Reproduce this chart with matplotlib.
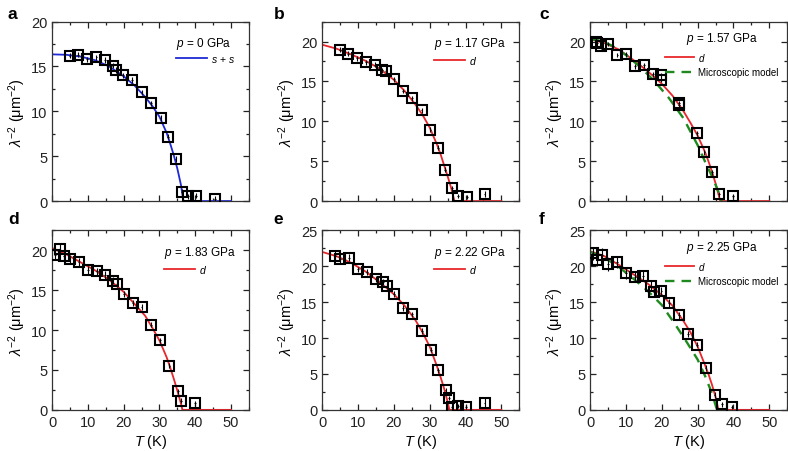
import matplotlib
matplotlib.use('Agg')
import matplotlib.pyplot as plt
from matplotlib.ticker import MultipleLocator

plt.rcParams['font.family'] = ['Liberation Sans', 'DejaVu Sans']
plt.rcParams['mathtext.fontset'] = 'custom'
plt.rcParams['mathtext.rm'] = 'Liberation Sans'
plt.rcParams['mathtext.it'] = 'Liberation Sans:italic'

# measured superfluid density, one set per pressure
T_a = [4.9, 7.3, 9.8, 12.4, 14.7, 16.9, 18.0, 19.8, 22.4, 25.0, 27.7, 30.3, 32.4, 34.5, 36.2, 38.1, 40.3, 45.4]
lam_a = [16.2, 16.3, 15.8, 16.0, 15.7, 15.1, 14.6, 14.0, 13.5, 12.1, 10.9, 9.25, 7.16, 4.7, 1.04, 0.52, 0.6, 0.22]
err_a = [0.3, 0.3, 0.3, 0.3, 0.3, 0.3, 0.3, 0.3, 0.3, 0.3, 0.3, 0.3, 0.3, 0.3, 0.3, 0.3, 0.3, 0.3]

T_b = [4.9, 7.1, 9.6, 12.2, 14.6, 16.7, 17.8, 20.0, 22.6, 25.1, 27.7, 30.2, 32.2, 34.3, 36.2, 37.9, 40.3, 45.3]
lam_b = [19.0, 18.5, 17.9, 17.4, 17.1, 16.4, 16.3, 15.25, 13.8, 12.9, 11.4, 8.95, 6.7, 3.95, 1.6, 0.63, 0.5, 0.92]
err_b = [0.3, 0.3, 0.3, 0.3, 0.3, 0.3, 0.3, 0.3, 0.3, 0.3, 0.3, 0.3, 0.3, 0.3, 0.3, 0.3, 0.3, 0.4]

T_c = [1.5, 2.0, 3.0, 5.0, 7.6, 10.1, 12.6, 15.1, 17.5, 19.9, 19.9, 24.7, 24.7, 29.8, 31.9, 34.1, 35.9, 39.8]
lam_c = [20.0, 19.8, 19.45, 19.7, 18.3, 18.4, 16.9, 17.0, 15.9, 15.75, 15.2, 12.0, 12.3, 8.5, 6.1, 3.6, 0.84, 0.63]
err_c = [0.5, 0.4, 0.4, 0.3, 0.3, 0.3, 0.3, 0.3, 0.3, 0.3, 0.3, 0.3, 0.3, 0.3, 0.3, 0.3, 0.3, 0.3]

T_d = [0.9, 2.1, 3.3, 4.9, 7.4, 10.0, 12.6, 14.9, 16.9, 18.1, 20.0, 22.5, 25.0, 27.6, 30.1, 32.8, 35.1, 36.0, 40.0]
lam_d = [19.45, 20.2, 19.3, 18.9, 18.5, 17.56, 17.35, 16.85, 16.2, 15.8, 14.5, 13.4, 12.9, 10.7, 8.74, 5.55, 2.35, 1.17, 0.8]
err_d = [0.6, 0.6, 0.5, 0.5, 0.5, 0.5, 0.5, 0.5, 0.4, 0.4, 0.4, 0.4, 0.4, 0.3, 0.3, 0.3, 0.3, 0.3, 0.3]

T_e = [3.5, 4.9, 7.5, 10.0, 12.5, 14.9, 17.0, 18.0, 20.0, 22.5, 25.1, 27.8, 30.3, 32.2, 34.4, 35.4, 36.3, 37.8, 40.1, 45.3]
lam_e = [21.5, 20.98, 21.2, 19.56, 19.24, 18.2, 17.8, 17.3, 16.1, 14.2, 13.3, 11.0, 8.4, 5.5, 2.7, 1.7, 0.37, 0.5, 0.37, 1.0]
err_e = [0.7, 0.5, 0.5, 0.4, 0.4, 0.4, 0.4, 0.4, 0.4, 0.4, 0.4, 0.4, 0.4, 0.3, 0.3, 0.3, 0.3, 0.3, 0.3, 0.8]

T_f = [0.65, 2.0, 3.4, 5.0, 7.4, 9.9, 12.4, 14.8, 16.9, 17.8, 19.9, 22.1, 24.7, 27.3, 29.8, 32.2, 34.7, 36.9, 39.6]
lam_f = [21.8, 20.9, 21.6, 20.3, 20.6, 19.0, 18.5, 18.7, 17.3, 16.4, 16.5, 14.9, 13.2, 10.6, 9.1, 5.8, 2.1, 0.75, 0.37]
err_f = [0.9, 0.9, 0.9, 0.9, 0.8, 0.8, 0.7, 0.7, 0.6, 0.6, 0.6, 0.5, 0.5, 0.4, 0.4, 0.4, 0.4, 0.3, 0.3]

# fitted curves
fitT_a = [0, 4, 8, 12, 16, 20, 23, 26, 28, 30, 32, 33, 34, 35, 36, 36.7, 50]
fit_a = [16.35, 16.3, 16.1, 15.7, 15.0, 13.9, 12.9, 11.6, 10.6, 9.4, 7.6, 6.4, 5.1, 3.6, 1.8, 0, 0]
fitT_b = [0, 4, 8, 12, 16, 20, 23, 26, 28, 30, 32, 33, 34, 35, 36, 36.9, 50]
fit_b = [19.6, 19.1, 18.4, 17.6, 16.6, 15.2, 13.8, 12.1, 10.8, 9.2, 7.1, 5.9, 4.5, 3.1, 1.6, 0, 0]
fitT_c = [0, 4, 8, 12, 16, 20, 23, 26, 28, 30, 32, 33, 34, 35, 36.3, 50]
fit_c = [20.3, 19.8, 19.0, 17.7, 16.3, 14.7, 13.2, 11.3, 9.8, 8.2, 6.2, 5.0, 3.7, 2.2, 0, 0]
fitT_d = [0, 4, 8, 12, 16, 20, 23, 26, 28, 30, 32, 33, 34, 35, 36, 36.4, 50]
fit_d = [20.3, 19.5, 18.5, 17.5, 16.3, 14.8, 13.3, 11.8, 10.3, 8.7, 6.6, 5.3, 3.9, 2.4, 0.8, 0, 0]
fitT_e = [0, 4, 8, 12, 16, 20, 23, 26, 28, 30, 32, 33, 34, 35, 35.5, 50]
fit_e = [22.0, 21.4, 20.5, 19.3, 17.8, 16.1, 14.5, 12.5, 10.8, 8.8, 6.1, 4.6, 3.0, 1.1, 0, 0]
fitT_f = [0, 4, 8, 12, 16, 20, 23, 26, 28, 30, 32, 33, 34, 35, 35.8, 50]
fit_f = [22.1, 21.4, 20.2, 18.9, 17.6, 16.0, 14.5, 12.4, 10.8, 8.8, 6.3, 5.0, 3.5, 1.8, 0, 0]

# microscopic model
micT_c = [0, 3, 6, 10, 14, 18, 22, 26, 30, 32, 34, 35.5, 36.8]
mic_c = [20.3, 20.1, 19.5, 18.3, 16.8, 15.0, 12.9, 10.4, 7.0, 5.0, 3.1, 1.5, 0]
micT_f = [0, 4, 8, 12, 16, 20, 24, 27, 30, 32, 34, 35.4]
mic_f = [22.0, 21.2, 19.9, 18.3, 16.6, 14.6, 11.7, 9.4, 7.0, 4.8, 2.3, 0]

pressures = ['0', '1.17', '1.57', '1.83', '2.22', '2.25']
fit_labels = ['$s$ + $s$', '$d$', '$d$', '$d$', '$d$', '$d$']
letters = ['a', 'b', 'c', 'd', 'e', 'f']

BLUE = '#1f2ad6'
RED = '#e8262b'
GREEN = '#1e8a1e'

panels = [
    (T_a, lam_a, err_a, fitT_a, fit_a, None, None, BLUE, 20),
    (T_b, lam_b, err_b, fitT_b, fit_b, None, None, RED, 22.5),
    (T_c, lam_c, err_c, fitT_c, fit_c, micT_c, mic_c, RED, 22.5),
    (T_d, lam_d, err_d, fitT_d, fit_d, None, None, RED, 22.5),
    (T_e, lam_e, err_e, fitT_e, fit_e, None, None, RED, 25),
    (T_f, lam_f, err_f, fitT_f, fit_f, micT_f, mic_f, RED, 25),
]

fig = plt.figure(figsize=(7.88, 4.52), dpi=100)
lefts = [0.066, 0.409, 0.749]
bottoms = [0.553, 0.091]
letter_x = [0.010, 0.347, 0.684]
letter_y = [0.985, 0.532]

for i, (T, lam, err, fT, fv, mT, mv, col, ytop) in enumerate(panels):
    row, c = divmod(i, 3)
    ax = fig.add_axes([lefts[c], bottoms[row], 0.25, 0.397])

    ax.plot(fT, fv, color=col, lw=1.3, label=fit_labels[i], zorder=2)
    if mT is not None:
        ax.plot(mT, mv, color=GREEN, lw=1.7, ls=(0, (4, 3)), label='Microscopic model', zorder=2)
    ax.errorbar(T, lam, yerr=err, xerr=0.25, fmt='s', ms=7, mfc='none', mec='black',
                mew=1.5, ecolor='black', elinewidth=0.8, capsize=0, zorder=3)

    ax.set_xlim(0, 55)
    ax.set_ylim(0, ytop)
    ax.xaxis.set_major_locator(MultipleLocator(10))
    ax.xaxis.set_minor_locator(MultipleLocator(5))
    ax.yaxis.set_major_locator(MultipleLocator(5))
    ax.yaxis.set_minor_locator(MultipleLocator(2.5))
    ax.tick_params(which='both', direction='in', top=True, right=True, labelsize=10.5, colors='#222222')
    ax.tick_params(which='major', length=4, width=0.9)
    ax.tick_params(which='minor', length=2.5, width=0.9)
    for s in ax.spines.values():
        s.set_linewidth(0.9)
        s.set_color('#333333')

    ax.set_ylabel(r'$\lambda^{-2}$ ($\mathrm{\mu m}^{-2}$)', fontsize=10.5, labelpad=2)
    if row == 1:
        ax.set_xlabel(r'$T$ (K)', fontsize=10.5, labelpad=2)
    else:
        ax.tick_params(axis='x', labelbottom=False)

    two = mT is not None
    leg = ax.legend(loc='upper right', frameon=False, fontsize=7.5 if not two else 7,
                    title=r'$p$ = ' + pressures[i] + ' GPa', title_fontsize=8.5,
                    handlelength=3.0, handletextpad=0.4,
                    borderaxespad=0.5 if two else 0.9,
                    labelspacing=0.45 if two else 0.25,
                    alignment='center' if two else 'left')

    fig.text(letter_x[c], letter_y[row], letters[i], fontsize=12.5, fontweight='bold', va='top')

fig.savefig('out.png', dpi=100)
